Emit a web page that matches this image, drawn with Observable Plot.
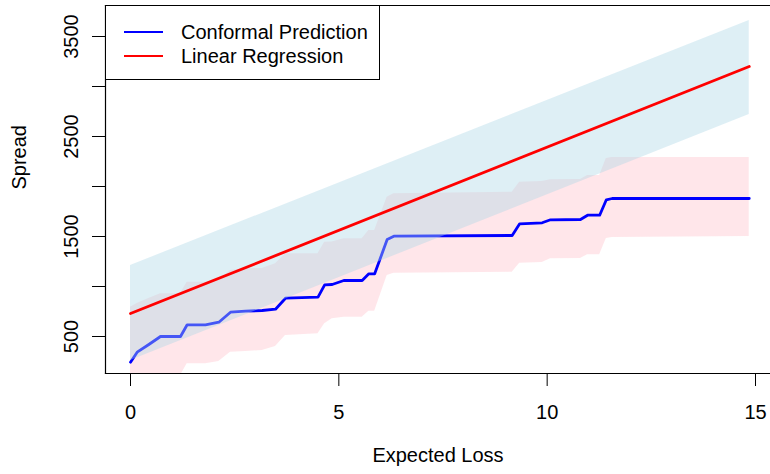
<!DOCTYPE html>
<html><head><meta charset="utf-8">
<script src="https://cdn.jsdelivr.net/npm/d3@7"></script>
<script src="https://cdn.jsdelivr.net/npm/@observablehq/plot@0.6"></script>
<style>
body{margin:0;background:#fff;font-family:"Liberation Sans",Arial,sans-serif;}
#wrap{position:relative;width:770px;height:474px;overflow:hidden;}
#legend{position:absolute;left:105px;top:5px;width:273px;height:73px;border:1.2px solid #000;background:#fff;box-sizing:content-box;}
.lrow{position:absolute;left:0;height:24px;display:flex;align-items:center;font-size:20px;color:#000;white-space:nowrap;}
.lline{display:inline-block;width:39px;height:0;border-top:2.5px solid;margin-left:18px;margin-right:18px;}
</style></head><body><div id="wrap"></div>
<script>
// Conformal prediction (step-like) series
const lossX     = [0, 0.16, 0.44, 0.72, 1.2, 1.36, 1.8, 2.12, 2.4, 2.76, 3.16, 3.48, 3.72, 4.5, 4.66, 4.84, 5.12, 5.56, 5.72, 5.86, 6.16, 6.32, 9.16, 9.34, 9.88, 10.08, 10.8, 10.97, 11.26, 11.42, 11.56, 14.85];
const conformal = [243, 343, 420, 500, 500, 617, 617, 643, 743, 753, 760, 773, 883, 893, 1017, 1020, 1060, 1060, 1127, 1127, 1470, 1503, 1510, 1627, 1637, 1667, 1670, 1713, 1713, 1867, 1880, 1880];
const confHigh  = [793, 830, 880, 927, 927, 1043, 1043, 1060, 1160, 1177, 1180, 1227, 1327, 1327, 1443, 1445, 1477, 1477, 1560, 1560, 1893, 1927, 1943, 2043, 2050, 2067, 2070, 2110, 2110, 2280, 2290, 2290];
const confLow   = [-150, -60, 20, 110, 110, 227, 227, 250, 343, 350, 360, 400, 510, 527, 627, 677, 693, 693, 753, 753, 1110, 1133, 1143, 1233, 1240, 1277, 1280, 1317, 1317, 1480, 1490, 1500];
// Linear regression fit and band
const lrX    = [0, 14.85];
const lrFit  = [730, 3200];
const lrLow  = [260, 2720];
const lrHigh = [1210, 3660];
// Axes
const xTicks  = [0, 5, 10, 15];
const yTicks  = [500, 1000, 1500, 2000, 2500, 3000, 3500];
const yLabels = [500, 1500, 2500, 3500];
const seriesNames  = ["Conformal Prediction", "Linear Regression"];
const seriesColors = ["blue", "red"];

const conf = lossX.map((x, i) => ({x, y: conformal[i], lo: confLow[i], hi: confHigh[i]}));
const lr = lrX.map((x, i) => ({x, y: lrFit[i], lo: lrLow[i], hi: lrHigh[i]}));

const chart = Plot.plot({
  width: 770, height: 474,
  marginLeft: 105, marginRight: 0, marginTop: 5, marginBottom: 101,
  style: {fontFamily: "Liberation Sans, Arial, sans-serif", fontSize: "20px", color: "black", background: "white"},
  x: {domain: [-0.6, 15.36]},
  y: {domain: [130, 3810]},
  marks: [
    Plot.areaY(conf, {x: "x", y1: "lo", y2: "hi", fill: "pink", fillOpacity: 0.4, clip: true}),
    Plot.line(conf, {x: "x", y: "y", stroke: seriesColors[0], strokeWidth: 2.8, clip: true}),
    Plot.areaY(lr, {x: "x", y1: "lo", y2: "hi", fill: "lightblue", fillOpacity: 0.4, clip: true}),
    Plot.line(lr, {x: "x", y: "y", stroke: seriesColors[1], strokeWidth: 2.8, clip: true}),
    Plot.frame({anchor: "left", stroke: "black", strokeWidth: 1.2}),
    Plot.frame({anchor: "top", stroke: "black", strokeWidth: 1.2}),
    Plot.frame({anchor: "bottom", stroke: "black", strokeWidth: 1.2}),
    Plot.axisX({ticks: xTicks, tickSize: 13, tickPadding: 18, fontSize: 20, label: null, tickFormat: d => String(d)}),
    Plot.axisY({ticks: yTicks, tickSize: 13, tickPadding: 15, tickRotate: -90, fontSize: 20, label: null,
      tickFormat: d => yLabels.includes(d) ? String(d) : ""}),
    Plot.text(["Expected Loss"], {frameAnchor: "bottom", dy: 88, text: d => d, fontSize: 20, fill: "black"}),
    Plot.text(["Spread"], {frameAnchor: "left", dx: -86, rotate: -90, text: d => d, fontSize: 20, fill: "black"})
  ]
});
const wrap = document.getElementById("wrap");
wrap.appendChild(chart);

const legend = document.createElement("div");
legend.id = "legend";
seriesNames.forEach((name, i) => {
  const row = document.createElement("div");
  row.className = "lrow";
  row.style.top = (14 + i * 24) + "px";
  const ln = document.createElement("span");
  ln.className = "lline";
  ln.style.borderTopColor = seriesColors[i];
  row.appendChild(ln);
  row.appendChild(document.createTextNode(name));
  legend.appendChild(row);
});
wrap.appendChild(legend);
</script></body></html>
